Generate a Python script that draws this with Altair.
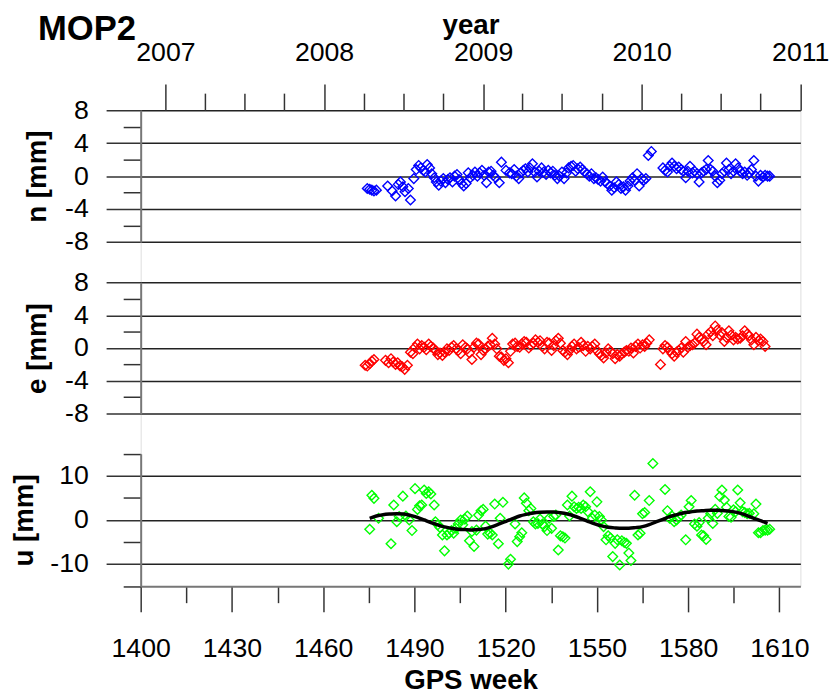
import altair as alt
import pandas as pd

# ---------------- data ----------------
n_week = [1474.5, 1475.3, 1476.0, 1476.7, 1477.5, 1481.2, 1482.7, 1483.8, 1484.7, 1485.4,
          1486.2, 1486.9, 1488.0, 1488.7, 1489.8, 1490.6, 1491.4, 1492.1, 1492.9, 1493.6,
          1494.2, 1495.0, 1495.7, 1496.5, 1497.2, 1498.0, 1498.7, 1499.5, 1500.2, 1501.0,
          1501.7, 1502.5, 1503.2, 1504.0, 1504.7, 1505.5, 1506.2, 1507.0, 1507.7, 1508.4,
          1509.2, 1509.9, 1510.7, 1511.4, 1512.2, 1512.9, 1513.7, 1514.4, 1515.2, 1515.9,
          1516.7, 1517.9, 1518.6, 1520.1, 1521.3, 1522.0, 1522.8, 1523.5, 1524.3, 1525.0,
          1525.8, 1526.5, 1527.3, 1528.0, 1528.8, 1529.5, 1530.3, 1531.0, 1531.8, 1532.5,
          1533.3, 1534.0, 1534.8, 1535.5, 1536.2, 1537.0, 1537.7, 1538.5, 1539.2, 1540.0,
          1540.7, 1541.5, 1542.2, 1543.0, 1543.7, 1544.5, 1545.2, 1546.0, 1546.7, 1547.5,
          1548.2, 1549.0, 1549.7, 1550.4, 1551.2, 1551.9, 1552.7, 1553.4, 1554.2, 1554.9,
          1555.7, 1556.4, 1557.2, 1557.9, 1558.7, 1559.4, 1560.2, 1560.9, 1561.7, 1562.4,
          1563.2, 1563.9, 1564.7, 1565.4, 1566.1, 1566.9, 1567.9, 1571.7, 1572.4, 1573.2,
          1573.9, 1574.7, 1575.4, 1576.2, 1576.9, 1577.7, 1578.4, 1579.2, 1579.9, 1580.6,
          1581.4, 1582.1, 1582.9, 1583.6, 1584.4, 1585.1, 1585.9, 1586.6, 1587.4, 1588.1,
          1588.9, 1589.6, 1590.4, 1591.1, 1591.9, 1592.6, 1593.4, 1594.1, 1594.9, 1595.6,
          1596.4, 1597.1, 1597.9, 1598.6, 1599.4, 1600.1, 1600.8, 1601.6, 1602.3, 1603.1,
          1603.8, 1604.6, 1605.3, 1606.1, 1606.8]
n_val = [-1.5, -1.6, -1.7, -1.8, -1.7, -1.2, -1.8, -2.4, -1.0, -0.7,
         -1.3, -1.9, -1.5, -2.9, -0.3, 0.8, 1.3, 1.0, 0.7, 0.5,
         1.4, 1.0, 0.3, -0.2, -0.7, -1.1, -0.6, -0.3, -0.8, -0.4,
         -0.2, -0.7, 0.0, 0.2, -0.4, -0.9, -1.2, -0.9, 0.4, -0.2,
         0.1, 0.5, 0.0, 0.4, 0.7, 0.1, -0.8, 0.5, 0.6, 0.1,
         -0.2, -0.8, 1.7, 0.7, 0.4, 0.3, 0.8, 0.0, -0.3, 0.4,
         0.7, 0.9, 0.5, 1.0, 1.5, 0.5, -0.1, 0.6, 1.0, 0.5,
         0.2, 0.7, 0.4, 0.6, 0.1, -0.3, 0.0, 0.5, -0.3, 0.4,
         1.0, 1.2, 1.3, 0.6, 0.9, 1.1, 0.8, 0.5, 0.3, 0.0,
         0.3, -0.3, -0.2, -0.4, -0.6, -0.1, -0.7, -0.9, -1.2, -1.7,
         -1.4, -0.7, -1.0, -1.5, -1.3, -1.7, -1.2, -0.6, -0.2, -0.5,
         0.3, -1.2, -0.3, -0.5, -0.3, 2.5, 3.0, 1.0, 0.7, 0.5,
         1.2, 1.6, 1.2, 0.9, 1.1, 0.8, 0.6, -0.2, 0.6, 1.2,
         0.4, 0.6, 0.3, -0.7, 0.4, 0.6, 0.8, 1.9, 0.8, 0.6,
         0.0, -0.8, -0.5, 0.3, 0.6, 1.6, 0.8, 0.3, 0.6, 1.5,
         1.0, 0.6, 0.3, 0.5, 0.1, 0.4, 0.8, 1.9, 0.0, -0.6,
         0.1, -0.1, 0.1, 0.0, 0.0]

e_week = [1473.8, 1474.5, 1475.3, 1476.0, 1476.7, 1480.5, 1481.5, 1482.3, 1483.0, 1483.8,
          1484.5, 1485.3, 1486.0, 1486.8, 1487.7, 1488.7, 1489.5, 1490.2, 1491.0, 1491.7,
          1492.4, 1493.2, 1493.9, 1494.7, 1495.4, 1496.2, 1496.9, 1497.7, 1498.4, 1499.2,
          1499.9, 1500.7, 1501.4, 1502.2, 1502.9, 1503.7, 1504.4, 1505.2, 1505.9, 1506.8,
          1507.4, 1508.1, 1508.9, 1509.6, 1510.4, 1511.1, 1511.9, 1512.6, 1513.4, 1514.1,
          1514.9, 1515.6, 1516.4, 1517.1, 1517.9, 1518.6, 1519.4, 1520.1, 1520.9, 1521.6,
          1522.3, 1523.1, 1523.8, 1524.6, 1525.3, 1526.1, 1526.8, 1527.6, 1528.3, 1529.1,
          1529.8, 1530.6, 1531.3, 1532.1, 1532.8, 1533.6, 1534.3, 1535.1, 1535.8, 1536.5,
          1537.3, 1538.0, 1538.8, 1539.5, 1540.3, 1541.0, 1541.8, 1542.5, 1543.3, 1544.0,
          1544.8, 1545.5, 1546.3, 1547.0, 1547.8, 1548.5, 1549.3, 1550.0, 1550.8, 1551.5,
          1552.2, 1553.0, 1553.7, 1554.5, 1555.2, 1556.0, 1556.7, 1557.5, 1558.2, 1559.0,
          1559.7, 1560.5, 1561.2, 1562.0, 1562.7, 1563.5, 1564.2, 1565.0, 1565.7, 1566.4,
          1567.2, 1570.9, 1571.7, 1572.4, 1573.2, 1573.9, 1574.7, 1575.4, 1576.2, 1576.9,
          1577.7, 1578.4, 1579.2, 1579.9, 1580.6, 1581.4, 1582.1, 1582.9, 1583.6, 1584.4,
          1585.1, 1585.9, 1586.6, 1587.4, 1588.1, 1588.9, 1589.6, 1590.4, 1591.1, 1591.9,
          1592.6, 1593.4, 1594.1, 1594.9, 1595.6, 1596.3, 1597.1, 1597.9, 1598.6, 1599.4,
          1600.1, 1600.8, 1601.6, 1602.3, 1603.1, 1603.8, 1604.6, 1605.3]
e_val = [-2.1, -2.2, -1.9, -1.6, -1.4, -1.5, -1.8, -1.3, -1.7, -2.0,
         -1.8, -2.2, -2.3, -2.6, -2.1, -0.5, -0.7, 0.1, 0.5, -0.1,
         0.3, 0.1, -0.2, 0.5, 0.2, 0.0, -0.3, -0.8, -0.6, -0.9,
         -0.5, -0.1, -0.3, 0.1, 0.3, -0.1, -0.3, -0.7, 0.4, 0.1,
         -0.1, -0.6, -1.4, 0.1, 0.6, 0.5, -0.8, -0.3, -0.1, 0.2,
         0.4, 1.2, 0.5, -0.1, -1.0, -1.1, -1.5, -1.3, -1.8, -0.4,
         0.5, 0.6, 0.2, 0.1, 0.5, 0.8, 0.7, 0.0, 0.3, 0.6,
         1.0, 0.7, 0.9, 0.2, -0.1, 0.7, 0.6, -0.3, 0.3, 0.9,
         1.2, 0.6, -0.3, -0.5, -0.8, -0.3, 0.2, 0.5, -0.1, 0.1,
         0.7, 0.3, -0.4, 0.2, -0.1, 0.2, 0.5, -0.3, -0.7, -0.9,
         -1.2, -0.6, -0.1, -0.4, -0.7, -1.3, -0.8, -1.0, -0.7, -0.5,
         -0.3, -0.4, 0.0, -0.6, 0.2, 0.5, 0.0, 0.4, 0.2, 0.6,
         1.0, -2.0, -0.1, 0.3, 0.1, -0.3, -0.7, -1.0, -0.5, -0.3,
         0.0, -0.5, 0.8, 0.1, 0.3, 0.4, 0.6, 1.7, 1.3, 1.1,
         0.8, 0.4, 1.7, 2.0, 1.5, 2.7, 2.2, 1.6, 1.9, 0.8,
         1.3, 2.1, 1.6, 1.0, 1.3, 1.1, 1.2, 1.5, 2.1, 1.7,
         1.5, 1.0, 0.4, 1.3, 0.9, 1.1, 0.8, 0.2]

u_week = [1475.3, 1476.0, 1476.7, 1478.2, 1482.3, 1483.2, 1484.2, 1485.0, 1486.2, 1487.2,
          1488.3, 1489.2, 1490.2, 1491.0, 1491.7, 1492.4, 1493.2, 1493.9, 1494.7, 1495.4,
          1496.5, 1496.9, 1497.7, 1498.4, 1499.2, 1499.9, 1500.7, 1501.4, 1502.2, 1502.9,
          1503.7, 1504.4, 1505.2, 1505.9, 1506.6, 1507.4, 1508.1, 1508.9, 1509.6, 1510.4,
          1511.1, 1511.9, 1512.6, 1513.4, 1514.1, 1514.9, 1515.6, 1516.4, 1517.6, 1518.2,
          1519.1, 1520.9, 1521.6, 1523.1, 1523.8, 1524.6, 1525.3, 1526.1, 1526.8, 1527.6,
          1528.3, 1529.1, 1529.8, 1530.6, 1531.3, 1532.1, 1532.8, 1533.6, 1534.3, 1535.1,
          1535.8, 1536.5, 1537.3, 1538.0, 1538.8, 1539.5, 1540.3, 1541.0, 1541.8, 1542.5,
          1543.3, 1544.0, 1544.8, 1545.5, 1546.3, 1547.0, 1547.8, 1548.5, 1549.3, 1550.0,
          1550.8, 1551.5, 1552.2, 1553.0, 1553.7, 1554.5, 1555.2, 1556.0, 1556.7, 1557.5,
          1558.2, 1559.0, 1559.7, 1560.5, 1561.2, 1562.4, 1563.5, 1564.2, 1565.0, 1565.7,
          1567.2, 1568.4, 1572.4, 1573.2, 1573.9, 1574.7, 1575.4, 1576.2, 1576.9, 1577.7,
          1579.2, 1580.3, 1581.0, 1582.1, 1582.9, 1583.6, 1584.4, 1585.1, 1585.9, 1586.6,
          1587.4, 1588.1, 1588.9, 1589.6, 1590.4, 1591.1, 1591.9, 1592.6, 1593.4, 1594.1,
          1594.9, 1595.6, 1596.3, 1597.1, 1597.9, 1598.6, 1599.4, 1600.1, 1601.6, 1602.3,
          1603.1, 1603.8, 1604.6, 1605.3, 1606.1, 1606.8]
u_val = [-2.1, 5.6, 4.9, 0.4, -5.4, 3.4, -0.4, 0.8, 5.4, 0.9,
         0.0, -2.4, 7.1, 2.4, 3.2, 3.4, 6.8, 6.0, 6.4, 5.9,
         3.4, -0.4, -1.1, -1.7, -3.4, -7.0, -3.4, -3.0, -2.4, -3.0,
         -1.9, -0.9, 0.0, -1.1, 0.2, 0.9, -4.7, -2.6, -6.0, -2.3,
         1.1, 2.1, 2.4, -1.4, -3.2, -3.0, -3.4, 3.6, -5.4, 0.4,
         4.0, -10.0, -8.9, -0.9, -4.9, -3.8, -2.9, 5.0, 3.8, 2.1,
         2.6, -0.4, -0.9, -0.8, 0.2, -0.9, -1.5, -2.4, 0.4, -1.9,
         0.8, 1.1, -6.8, -3.6, -3.8, -4.1, 3.4, 0.9, 5.4, 3.0,
         2.6, 2.9, 2.6, 3.4, 3.0, 1.9, 6.4, 0.4, 1.1, 4.1,
         0.8, 0.0, -1.5, -4.5, -3.6, -4.1, -8.3, -5.3, -4.5, -10.2,
         -4.7, -5.1, -5.3, -7.5, -9.2, 5.6, -3.4, -3.0, 1.4, 1.7,
         4.4, 12.8, 6.9, 2.1, 0.4, 0.9, -0.4, 0.0, 0.6, 1.1,
         -4.5, 3.0, 4.4, -0.9, -1.4, -0.6, -3.4, -3.6, -4.4, 0.4,
         1.4, -0.8, 2.4, 1.5, 5.3, 6.8, 4.5, 2.9, 0.8, 0.6,
         2.3, 1.9, 6.8, 3.9, 1.9, 1.7, 1.4, 1.5, 1.4, 3.6,
         -2.9, -2.9, -2.4, -2.3, -2.3, -2.1]

fit_week = [1475.3, 1477.5, 1479.7, 1482.0, 1484.2, 1486.5, 1488.7, 1491.0, 1493.2, 1495.4,
            1497.7, 1499.9, 1502.2, 1504.4, 1506.6, 1508.9, 1511.1, 1513.4, 1515.6, 1517.9,
            1520.1, 1522.3, 1524.6, 1526.8, 1529.1, 1531.3, 1533.6, 1535.8, 1538.0, 1540.3,
            1542.5, 1544.8, 1547.0, 1549.3, 1551.5, 1553.7, 1556.0, 1558.2, 1560.5, 1562.7,
            1565.0, 1567.2, 1569.4, 1571.7, 1573.9, 1576.2, 1578.4, 1580.6, 1582.9, 1585.1,
            1587.4, 1589.6, 1591.9, 1594.1, 1596.3, 1598.6, 1600.8, 1603.1, 1605.3, 1606.1]
fit_val = [0.38, 0.9, 1.2, 1.35, 1.43, 1.35, 1.05, 0.6, 0.0, -0.6,
           -1.13, -1.58, -1.88, -2.11, -2.18, -2.26, -2.18, -1.95, -1.5, -0.9,
           -0.3, 0.3, 0.9, 1.28, 1.58, 1.73, 1.8, 1.8, 1.65, 1.35,
           0.9, 0.3, -0.3, -0.9, -1.35, -1.65, -1.8, -1.88, -1.88, -1.73,
           -1.5, -1.05, -0.45, 0.15, 0.75, 1.2, 1.58, 1.8, 2.03, 2.11,
           2.18, 2.18, 2.11, 1.95, 1.65, 1.2, 0.6, 0.0, -0.53, -0.75]

week_ticks = [1400, 1415, 1430, 1445, 1460, 1475, 1490, 1505, 1520, 1535, 1550, 1565, 1580, 1595, 1610]
ne_ticks = [-8, -6, -4, -2, 0, 2, 4, 6, 8]
u_ticks = [-15, -10, -5, 0, 5, 10, 15]
year_tick_dates = [(y, m) for y in [2007, 2008, 2009, 2010] for m in [1, 4, 7, 10]] + [(2011, 1)]

# ---------------- layout ----------------
W, H = 667.7, 481.7
XDOM = [1400, 1616.9]
FONT = "Liberation Sans"

n_df = pd.DataFrame({"week": n_week, "val": n_val})
e_df = pd.DataFrame({"week": e_week, "val": e_val})
u_df = pd.DataFrame({"week": u_week, "val": u_val})
fit_df = pd.DataFrame({"week": fit_week, "val": fit_val})
yr_df = pd.DataFrame({"date": [f"{y}-{m:02d}-01" for y, m in year_tick_dates]})

xscale = alt.Scale(domain=XDOM, nice=False, zero=False)


def yaxis(title, values, test, tpad):
    return alt.Axis(
        orient="left", values=values, title=title,
        tickSize={"condition": {"test": test, "value": 35}, "value": 17.7},
        labelExpr=f"({test}) ? ('' + datum.value) : ''",
        grid=True,
        gridOpacity={"condition": {"test": test, "value": 1}, "value": 0},
        gridColor="#222222", gridWidth=1.5,
        domainColor="#777777", domainWidth=2,
        tickColor="#333333", tickWidth=1.5,
        labelFont=FONT, labelFontSize=27, labelColor="black", labelPadding=18,
        labelOverlap=False, labelBound=False, labelFlush=False,
        titleFont=FONT, titleFontSize=28, titleFontWeight="bold", titleColor="black",
        titlePadding=tpad,
    )


bottom_axis = alt.Axis(
    orient="bottom", values=week_ticks, title="GPS week",
    tickSize={"condition": {"test": "(datum.value - 1400) % 30 === 0", "value": 26}, "value": 16.7},
    labelExpr="((datum.value - 1400) % 30 === 0) ? ('' + datum.value) : ''",
    grid=False, domainColor="#777777", domainWidth=2,
    tickColor="#333333", tickWidth=1.5,
    labelFont=FONT, labelFontSize=27, labelColor="black", labelPadding=24,
    labelOverlap=False, labelBound=False, labelFlush=False,
    titleFont=FONT, titleFontSize=28, titleFontWeight="bold", titleColor="black",
    titlePadding=6,
)

top_axis = alt.Axis(
    orient="top",
    values=[alt.DateTime(year=y, month=m, date=1, utc=True) for y, m in year_tick_dates],
    title="year",
    tickSize={"condition": {"test": "utcmonth(datum.value) === 0", "value": 26.6}, "value": 17.3},
    labelExpr="utcmonth(datum.value) === 0 ? utcFormat(datum.value, '%Y') : ''",
    grid=False, domain=False,
    tickColor="#333333", tickWidth=1.5,
    labelFont=FONT, labelFontSize=27, labelColor="black", labelPadding=17.5,
    labelOverlap=False, labelBound=False, labelFlush=False,
    titleFont=FONT, titleFontSize=28, titleFontWeight="bold", titleColor="black",
    titlePadding=0,
)

pt = dict(shape="diamond", filled=False, size=95, strokeWidth=1.4, opacity=1)

n_layer = alt.Chart(n_df).mark_point(color="#0000ff", **pt).encode(
    x=alt.X("week:Q", scale=xscale, axis=None),
    y=alt.Y("val:Q", scale=alt.Scale(domain=[-8, 8], range=[133.4, 0], nice=False, zero=False),
            axis=yaxis("n [mm]", ne_ticks, "datum.value % 4 === 0", 13)),
)
e_layer = alt.Chart(e_df).mark_point(color="#ff0000", **pt).encode(
    x=alt.X("week:Q", scale=xscale, axis=None),
    y=alt.Y("val:Q", scale=alt.Scale(domain=[-8, 8], range=[307.0, 174.4], nice=False, zero=False),
            axis=yaxis("e [mm]", ne_ticks, "datum.value % 4 === 0", 13)),
)
u_layer = alt.Chart(u_df).mark_point(color="#00ff00", **pt).encode(
    x=alt.X("week:Q", scale=xscale, axis=bottom_axis),
    y=alt.Y("val:Q", scale=alt.Scale(domain=[-15, 15], range=[481.7, 347.7], nice=False, zero=False),
            axis=yaxis("u [mm]", u_ticks, "datum.value % 10 === 0", 11)),
)
fit_layer = alt.Chart(fit_df).mark_line(color="black", strokeWidth=3.5, interpolate="monotone").encode(
    x=alt.X("week:Q", scale=xscale, axis=None),
    y=alt.Y("val:Q", scale=alt.Scale(domain=[-15, 15], range=[481.7, 347.7], nice=False, zero=False),
            axis=None),
)
yr_layer = alt.Chart(yr_df).mark_point(opacity=0).encode(
    x=alt.X("date:T", axis=top_axis,
            scale=alt.Scale(type="utc", domain=[
                alt.DateTime(year=2006, month=11, date=5, utc=True),
                alt.DateTime(year=2011, month=1, date=1, hours=7, utc=True)])),
)

chart = alt.layer(n_layer, e_layer, u_layer, fit_layer, yr_layer).resolve_scale(
    x="independent", y="independent"
).properties(
    width=W, height=H,
    padding={"left": 134.3, "top": 99.3, "right": 32, "bottom": 108},
    autosize=alt.AutoSizeParams(type="none"),
    title=alt.TitleParams("MOP2", anchor="start", frame="group", font=FONT, fontSize=35,
                          fontWeight="bold", color="black", dx=-104, dy=40),
).configure_view(stroke=None).configure(background="white")

chart.save("out.html", embed_options={"renderer": "svg", "actions": False})
